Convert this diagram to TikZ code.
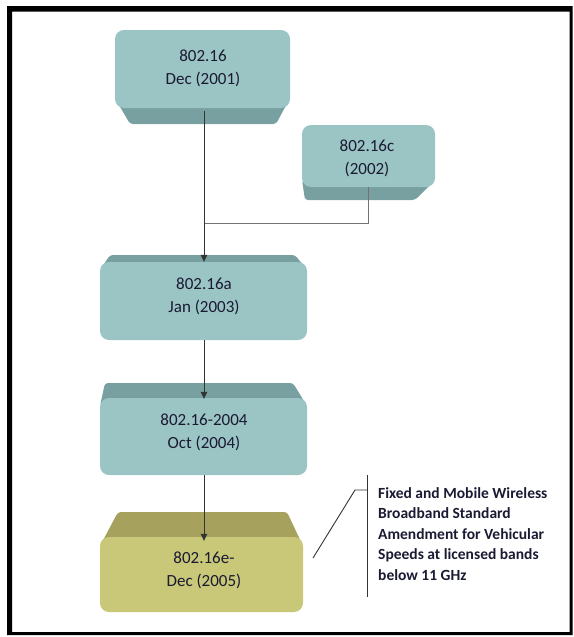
\documentclass[tikz,border=0pt]{standalone}
\usepackage{fontspec}
\setmainfont{Carlito}
\usetikzlibrary{arrows.meta,calc}
\definecolor{tealface}{HTML}{9BC4C4}
\definecolor{tealside}{HTML}{78A0A0}
\definecolor{yelface}{HTML}{C8C878}
\definecolor{yelside}{HTML}{A6A25E}
\definecolor{txt}{HTML}{1A1A33}
\tikzset{
  face/.style={draw=none, rounded corners=9pt, inner sep=0pt, minimum width=#1},
  lbl/.style={font=\fontsize{17}{23}\selectfont, text=txt, align=center, inner sep=0pt},
  conn/.style={draw=black!80, line width=0.8pt},
  tipped/.style={conn, -{Triangle[length=7pt,width=6.5pt]}},
  graylink/.style={draw=black!55, line width=0.8pt},
}
\begin{document}
\begin{tikzpicture}[x=1pt,y=-1pt]
\useasboundingbox (0,0) rectangle (573,637);
% frame
\fill[black, even odd rule] (7,6) rectangle (572.5,635) (12,11.5) rectangle (569.5,632);

% box 1
\fill[tealside, rounded corners=3pt] (115,98) -- (290,98) -- (276,124) -- (130,124) -- cycle;
\node[face=175pt, minimum height=78pt, fill=tealface] (b1) at (202.5,69) {};
\node[lbl] (t1) at (203,68.5) {802.16\\Dec (2001)};

% box 2
\fill[tealside, rounded corners=3pt] (302,180) -- (435,180) -- (415,200) -- (305,200) -- cycle;
\node[face=133pt, minimum height=62pt, fill=tealface] (b2) at (368.5,156) {};
\node[lbl] (t2) at (367,158.5) {802.16c\\(2002)};

% box 3
\fill[tealside, rounded corners=3pt] (110,255) -- (295,255) -- (307,270) -- (100,270) -- cycle;
\node[face=207pt, minimum height=78pt, fill=tealface] (b3) at (203.5,301) {};
\node[lbl] (t3) at (204,296) {802.16a\\Jan (2003)};

% box 4
\fill[tealside, rounded corners=3pt] (105,383) -- (293,383) -- (307,406) -- (100,406) -- cycle;
\node[face=207pt, minimum height=77pt, fill=tealface] (b4) at (203.5,436.5) {};
\node[lbl] (t4) at (204,432.5) {802.16-2004\\Oct (2004)};

% box 5
\fill[yelside, rounded corners=3pt] (118,512) -- (287,512) -- (303,546) -- (100,546) -- cycle;
\node[face=203pt, minimum height=75pt, fill=yelface] (b5) at (201.5,574.5) {};
\node[lbl] (t5) at (204,570) {802.16e-\\Dec (2005)};

% connectors
\coordinate (j) at (204,223);
\draw[graylink] (b2.south) -- (b2.south |- j) -- (j);
\draw[tipped] (b1.south -| j) ++(0,3) -- (b3.north -| j);
\draw[tipped] (b3.south -| j) -- ([yshift=-1pt]b4.north -| j);
\draw[tipped] (b4.south -| j) -- ([yshift=-4pt]b5.north -| j);

% callout
\coordinate (ct) at (367,475);
\coordinate (cb) at (367,597);
\coordinate (cm) at (367,490);
\coordinate (ce) at (355,490);
\coordinate (cp) at (313,558);
\draw[conn, line width=0.9pt] (ct) -- (cb);
\draw[conn, line width=0.9pt] (cm) -- (ce) -- (cp);
\node[anchor=north west, align=left, inner sep=0pt, text=txt,
      font=\bfseries\fontsize{15.5}{20.5}\selectfont] (note) at (378,487)
  {Fixed and Mobile Wireless\\Broadband Standard\\Amendment for Vehicular\\Speeds at licensed bands\\below 11 GHz};
\end{tikzpicture}
\end{document}
